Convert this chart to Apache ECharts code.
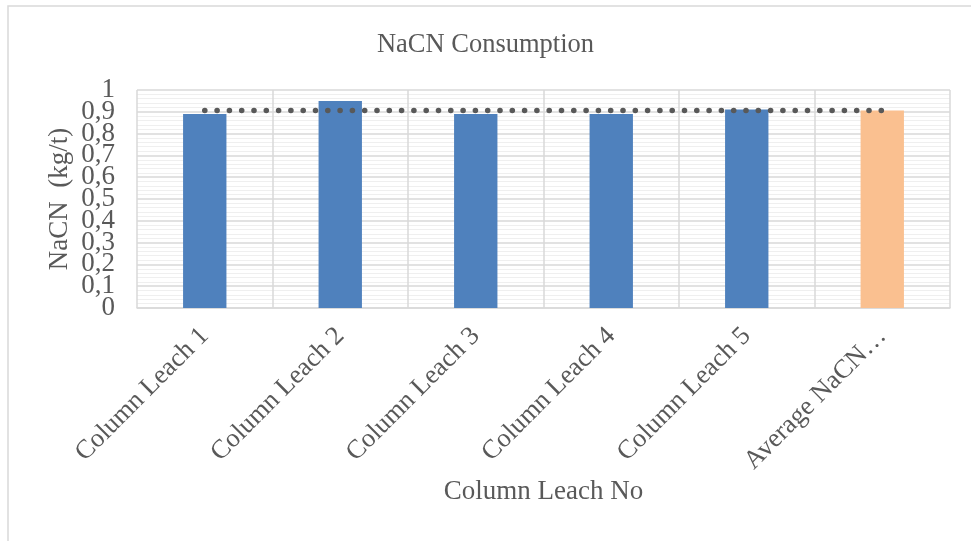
<!DOCTYPE html>
<html>
<head>
<meta charset="utf-8">
<script src="https://cdn.jsdelivr.net/npm/echarts@6/dist/echarts.min.js"></script>
<style>
  html, body { margin: 0; padding: 0; background: #fff; }
  #chart { width: 971px; height: 541px; }
</style>
</head>
<body>
<div id="chart"></div>
<script>
// Consumption per column leach test, plus the overall average
const categories = ['Column Leach 1', 'Column Leach 2', 'Column Leach 3', 'Column Leach 4', 'Column Leach 5', 'Average NaCN…'];
const consumption = [0.89, 0.95, 0.89, 0.89, 0.91, 0.906];
const averageLine = [0.906, 0.906, 0.906, 0.906, 0.906, 0.906];
const yMin = 0;
const yMax = 1;
const yStep = 0.1;

const barColor = '#4F81BD';
const avgColor = '#FAC090';
const textColor = '#595959';
const font = '"Liberation Serif", "Times New Roman", serif';

// Plot box; the tick labels are split over two stacked axes (even and odd
// steps) so that the tightly packed serif labels are all kept.
const plot = { left: 137, right: 21, top: 90, bottom: 233 };
const plotH = 541 - plot.top - plot.bottom;
const stepPx = plotH * yStep / (yMax - yMin);

function tickText(v) {
  const r = Math.round(v * 10) / 10;
  return (r === 0 || r === 1) ? String(r) : String(r).replace('.', ',');
}

const labelStyle = {
  margin: 22,
  fontFamily: font,
  fontSize: 27,
  color: textColor,
  showMinLabel: true,
  showMaxLabel: true,
  formatter: tickText
};

const chart = echarts.init(document.getElementById('chart'), null, { renderer: 'canvas' });

chart.setOption({
  animation: false,
  backgroundColor: '#ffffff',
  graphic: [{
    type: 'rect',
    shape: { x: 8, y: 6, width: 1100, height: 700 },
    style: { fill: 'none', stroke: '#d9d9d9', lineWidth: 1.5 },
    silent: true
  }],
  title: {
    text: 'NaCN Consumption',
    left: 'center',
    top: 27,
    textStyle: { fontFamily: font, fontSize: 26.5, fontWeight: 'normal', color: textColor }
  },
  grid: [
    { left: plot.left, right: plot.right, top: plot.top, bottom: plot.bottom, containLabel: false, outerBoundsMode: 'none' },
    { left: plot.left, right: plot.right, top: plot.top + stepPx, bottom: plot.bottom + stepPx, containLabel: false, outerBoundsMode: 'none' }
  ],
  xAxis: [
    {
      type: 'category',
      gridIndex: 0,
      data: categories,
      name: 'Column Leach No',
      nameLocation: 'middle',
      nameGap: 170,
      nameTextStyle: { fontFamily: font, fontSize: 27, color: textColor },
      axisLine: { lineStyle: { color: '#d9d9d9', width: 1.5 } },
      axisTick: { show: false },
      splitLine: { show: true, lineStyle: { color: '#d9d9d9', width: 1.5 } },
      axisLabel: {
        rotate: 45,
        margin: 24,
        interval: 0,
        fontFamily: font,
        fontSize: 26.5,
        color: textColor
      }
    },
    { type: 'category', gridIndex: 1, data: categories, show: false }
  ],
  yAxis: [
    {
      // main value axis: grid lines and the axis title
      type: 'value',
      gridIndex: 0,
      position: 'left',
      min: yMin,
      max: yMax,
      interval: yStep,
      name: 'NaCN  (kg/t)',
      nameLocation: 'middle',
      nameGap: 64,
      nameTextStyle: { fontFamily: font, fontSize: 27, color: textColor },
      axisLine: { show: false },
      axisTick: { show: false },
      axisLabel: { show: false },
      splitLine: { show: true, lineStyle: { color: '#d9d9d9', width: 1.5 } },
      minorTick: { show: false, splitNumber: 5 },
      minorSplitLine: { show: true, lineStyle: { color: '#efefef', width: 1.2 } }
    },
    {
      // labels 0, 0,2 ... 1
      type: 'value',
      gridIndex: 0,
      position: 'left',
      offset: 0,
      min: yMin,
      max: yMax,
      interval: yStep * 2,
      axisLine: { show: false },
      axisTick: { show: false },
      splitLine: { show: false },
      axisLabel: labelStyle
    },
    {
      // labels 0,1, 0,3 ... 0,9
      type: 'value',
      gridIndex: 1,
      position: 'left',
      min: yMin + yStep,
      max: yMax - yStep,
      interval: yStep * 2,
      axisLine: { show: false },
      axisTick: { show: false },
      splitLine: { show: false },
      axisLabel: labelStyle
    }
  ],
  series: [
    {
      type: 'bar',
      xAxisIndex: 0,
      yAxisIndex: 0,
      data: consumption.map((v, i) => ({
        value: v,
        itemStyle: { color: i === consumption.length - 1 ? avgColor : barColor }
      })),
      barWidth: '32%',
      z: 2
    },
    {
      type: 'line',
      xAxisIndex: 0,
      yAxisIndex: 0,
      data: averageLine,
      symbol: 'none',
      z: 3,
      lineStyle: { color: '#595959', width: 5.5, type: [0.1, 12.2], cap: 'round' }
    }
  ]
});
</script>
</body>
</html>
